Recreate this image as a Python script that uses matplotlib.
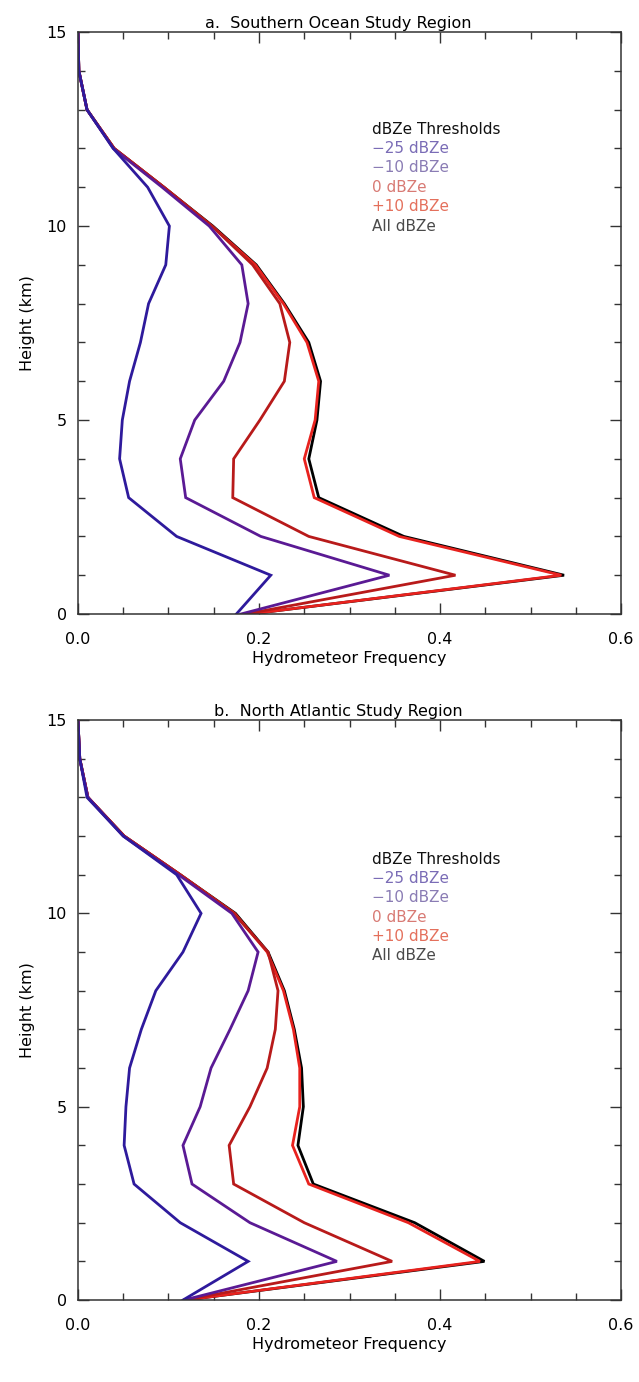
import matplotlib
matplotlib.use("Agg")
import matplotlib.pyplot as plt
from matplotlib.ticker import MultipleLocator, FormatStrFormatter

heights = list(range(16))

# Southern Ocean
so_m25 = [0.175, 0.213, 0.109, 0.056, 0.046, 0.049, 0.057, 0.069, 0.078, 0.097, 0.101, 0.077, 0.039, 0.010, 0.001, 0.0]
so_m10 = [0.180, 0.344, 0.202, 0.119, 0.113, 0.129, 0.161, 0.179, 0.188, 0.181, 0.145, 0.093, 0.039, 0.010, 0.001, 0.0]
so_0 = [0.185, 0.417, 0.255, 0.171, 0.172, 0.201, 0.228, 0.234, 0.223, 0.193, 0.148, 0.095, 0.040, 0.010, 0.001, 0.0]
so_p10 = [0.190, 0.534, 0.355, 0.261, 0.250, 0.262, 0.266, 0.253, 0.227, 0.196, 0.148, 0.095, 0.040, 0.010, 0.001, 0.0]
so_all = [0.190, 0.537, 0.360, 0.266, 0.255, 0.264, 0.268, 0.255, 0.228, 0.197, 0.149, 0.095, 0.040, 0.010, 0.001, 0.0]

# North Atlantic
na_m25 = [0.116, 0.188, 0.113, 0.062, 0.051, 0.053, 0.057, 0.070, 0.086, 0.116, 0.136, 0.109, 0.050, 0.010, 0.002, 0.0]
na_m10 = [0.117, 0.286, 0.190, 0.126, 0.116, 0.135, 0.147, 0.168, 0.188, 0.199, 0.170, 0.111, 0.050, 0.011, 0.002, 0.0]
na_0 = [0.118, 0.347, 0.250, 0.172, 0.167, 0.190, 0.209, 0.218, 0.221, 0.210, 0.172, 0.113, 0.051, 0.011, 0.002, 0.0]
na_p10 = [0.119, 0.444, 0.365, 0.255, 0.237, 0.245, 0.245, 0.238, 0.227, 0.209, 0.173, 0.113, 0.051, 0.011, 0.002, 0.0]
na_all = [0.119, 0.449, 0.372, 0.260, 0.243, 0.249, 0.247, 0.239, 0.228, 0.210, 0.174, 0.113, 0.051, 0.011, 0.002, 0.0]

titles = ["a.  Southern Ocean Study Region", "b.  North Atlantic Study Region"]
legend_labels = ["\u221225 dBZe", "\u221210 dBZe", "0 dBZe", "+10 dBZe", "All dBZe"]
line_colors = ["#2e1a9c", "#5a1a94", "#b81a1a", "#e8221e", "#000000"]
text_colors = ["#7a6cb6", "#8a7cb4", "#d87a74", "#e4705c", "#4a4a4a"]

fig = plt.figure(figsize=(6.39, 13.82), dpi=100)
ax_a = fig.add_axes([0.122, 0.5557, 0.850, 0.4211])
ax_b = fig.add_axes([0.122, 0.0593, 0.850, 0.4197])

panels = [
    (ax_a, [so_m25, so_m10, so_0, so_p10, so_all], titles[0], 12.5),
    (ax_b, [na_m25, na_m10, na_0, na_p10, na_all], titles[1], 11.4),
]

for ax, series, title, leg_y in panels:
    order = [4, 3, 2, 1, 0]
    for i in order:
        ax.plot(series[i], heights, color=line_colors[i], lw=2.0, solid_joinstyle="miter")
    ax.set_xlim(0, 0.6)
    ax.set_ylim(0, 15)
    ax.xaxis.set_major_locator(MultipleLocator(0.2))
    ax.xaxis.set_minor_locator(MultipleLocator(0.05))
    ax.xaxis.set_major_formatter(FormatStrFormatter("%.1f"))
    ax.yaxis.set_major_locator(MultipleLocator(5))
    ax.yaxis.set_minor_locator(MultipleLocator(1))
    ax.yaxis.set_major_formatter(FormatStrFormatter("%d"))
    ax.tick_params(which="both", direction="in", top=True, right=True,
                   labelsize=11.5, color="#333333", width=1.0)
    ax.tick_params(which="major", length=8)
    ax.tick_params(which="minor", length=5)
    ax.tick_params(axis="x", which="major", pad=13)
    ax.tick_params(axis="y", which="major", pad=8)
    for s in ax.spines.values():
        s.set_linewidth(1.1)
        s.set_color("#333333")
    ax.set_xlabel("Hydrometeor Frequency", fontsize=11.5, labelpad=3)
    ax.set_ylabel("Height (km)", fontsize=11.5, labelpad=8)
    ax.set_title(title, fontsize=11.5, pad=3, x=0.48)
    ax.text(0.325, leg_y, "dBZe Thresholds", fontsize=11, color="#111111", va="center")
    for j, lab in enumerate(legend_labels):
        ax.text(0.325, leg_y - 0.5 * (j + 1), lab, fontsize=11, color=text_colors[j], va="center")

fig.savefig("out.png", dpi=100)
